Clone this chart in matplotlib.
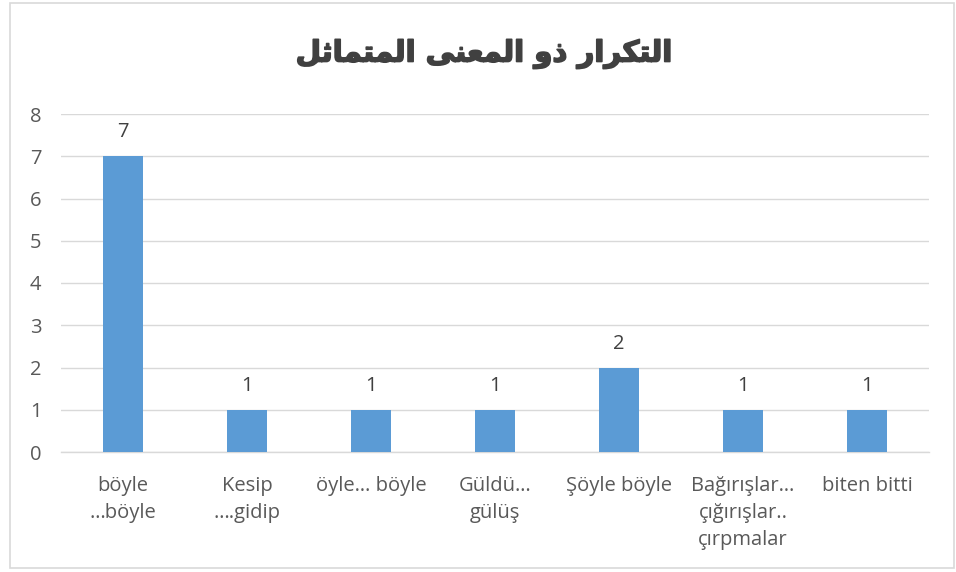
import matplotlib
matplotlib.use("Agg")
import matplotlib.pyplot as plt
import matplotlib.patheffects as pe
from matplotlib.patches import Rectangle

# ---- data ----
title_text = "التكرار ذو المعنى المتماثل"
categories = [
    "böyle\n…böyle",
    "Kesip\n….gidip",
    "öyle… böyle",
    "Güldü…\ngülüş",
    "Şöyle böyle",
    "Bağırışlar…\nçığırışlar..\nçırpmalar",
    "biten bitti",
]
values = [7, 1, 1, 1, 2, 1, 1]
y_ticks = [0, 1, 2, 3, 4, 5, 6, 7, 8]

# ---- Arabic contextual shaping (presentation forms, visual order) ----
# isolated, final, initial, medial
FORMS = {
    "ا": ("\uFE8D", "\uFE8E", None, None),
    "ل": ("\uFEDD", "\uFEDE", "\uFEDF", "\uFEE0"),
    "ت": ("\uFE95", "\uFE96", "\uFE97", "\uFE98"),
    "ك": ("\uFED9", "\uFEDA", "\uFEDB", "\uFEDC"),
    "ر": ("\uFEAD", "\uFEAE", None, None),
    "ذ": ("\uFEAB", "\uFEAC", None, None),
    "و": ("\uFEED", "\uFEEE", None, None),
    "م": ("\uFEE1", "\uFEE2", "\uFEE3", "\uFEE4"),
    "ع": ("\uFEC9", "\uFECA", "\uFECB", "\uFECC"),
    "ن": ("\uFEE5", "\uFEE6", "\uFEE7", "\uFEE8"),
    "ى": ("\uFEEF", "\uFEF0", "\uFBE8", "\uFBE9"),
    "ث": ("\uFE99", "\uFE9A", "\uFE9B", "\uFE9C"),
}


def shape_arabic(text):
    out = []
    n = len(text)
    for i, ch in enumerate(text):
        if ch not in FORMS:
            out.append(ch)
            continue
        prev = text[i - 1] if i > 0 else None
        nxt = text[i + 1] if i < n - 1 else None
        join_prev = prev in FORMS and FORMS[prev][2] is not None
        join_next = nxt in FORMS and FORMS[ch][2] is not None
        iso, fin, ini, med = FORMS[ch]
        if join_prev and join_next:
            out.append(med)
        elif join_prev:
            out.append(fin)
        elif join_next:
            out.append(ini)
        else:
            out.append(iso)
    return "".join(reversed(out))


FONT = ["Open Sans", "DejaVu Sans"]

# ---- figure ----
W, H = 956, 572
fig = plt.figure(figsize=(W / 100, H / 100), dpi=100)
fig.patch.set_facecolor("white")

# chart frame
fig.patches.append(Rectangle((10 / W, 4 / H), 944 / W, 565 / H,
                             transform=fig.transFigure, fill=False,
                             edgecolor="#d9d9d9", linewidth=1.2))

ax = fig.add_axes([61 / W, 120 / H, 868 / W, 338 / H])
x = list(range(len(categories)))
ax.bar(x, values, width=0.315, color="#5B9BD5", zorder=3)

ax.set_xlim(-0.5, len(categories) - 0.5)
ax.set_ylim(0, 8)
ax.set_yticks(y_ticks)
ax.set_yticklabels([str(t) for t in y_ticks])
ax.yaxis.grid(True, color="#d9d9d9", linewidth=1.0, zorder=0)
ax.set_xticks(x)
ax.set_xticklabels(categories, linespacing=1.48)

for s in ["top", "right", "left"]:
    ax.spines[s].set_visible(False)
ax.spines["bottom"].set_color("#d9d9d9")
ax.spines["bottom"].set_linewidth(1.0)

ax.tick_params(axis="both", length=0, labelsize=14.5, labelcolor="#595959")
ax.tick_params(axis="x", pad=17)
ax.tick_params(axis="y", pad=14)
for lbl in ax.get_xticklabels() + ax.get_yticklabels():
    lbl.set_family(FONT)

for xi, v in zip(x, values):
    ax.annotate(str(v), (xi, v), xytext=(0, 10), textcoords="offset points",
                ha="center", va="bottom", fontsize=14.5, color="#404040",
                family=FONT)

fig.text(484 / W, 1 - 54 / H, shape_arabic(title_text), ha="center",
         va="center", fontsize=21, fontweight="bold", color="#404040",
         family=["DejaVu Sans"],
         path_effects=[pe.withStroke(linewidth=1.2, foreground="#404040")])

fig.savefig("out.png", dpi=100, facecolor="white")
